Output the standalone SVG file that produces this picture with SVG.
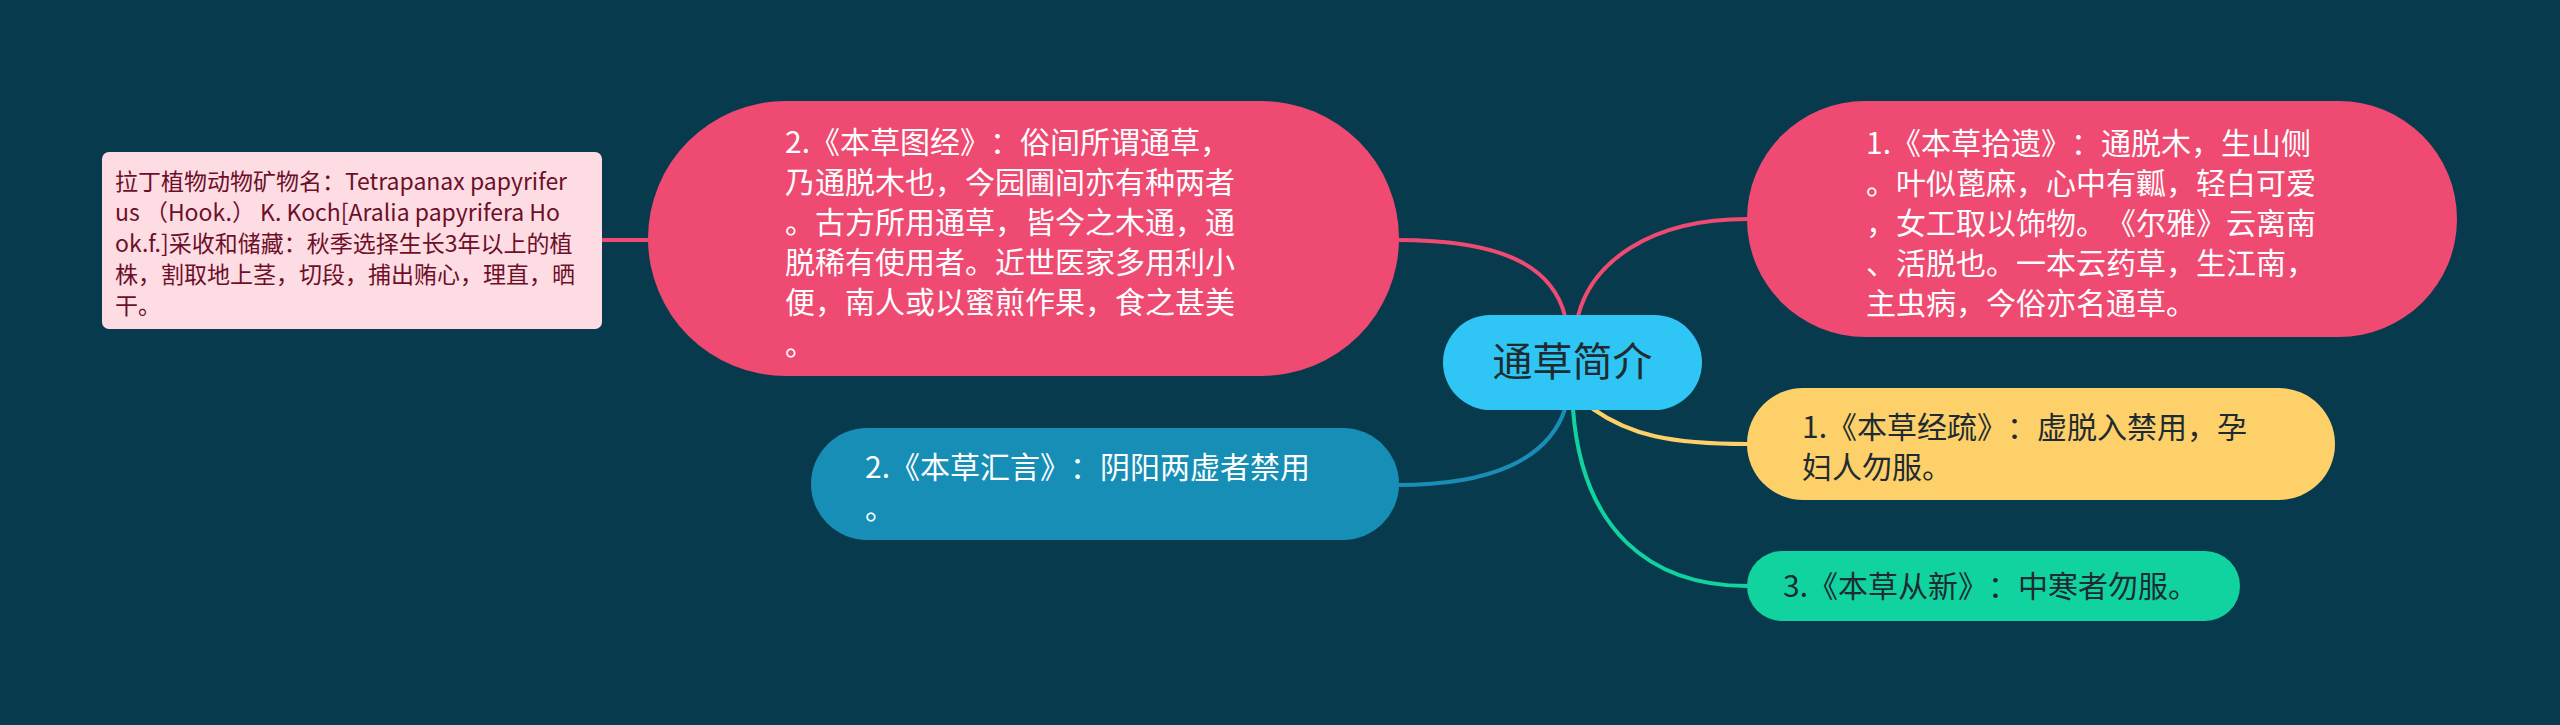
<svg xmlns="http://www.w3.org/2000/svg" width="2560" height="725" viewBox="0 0 2560 725">
<style>
text{font-family:"Microsoft YaHei","Noto Sans CJK SC","Noto Sans",sans-serif;text-spacing-trim:space-all}
.c{fill:none;stroke-width:4;stroke-linecap:round}
.w{fill:#ffffff;font-size:30px}
.d{fill:#1e2b30;font-size:30px}
</style>
<rect x="0" y="0" width="2560" height="725" fill="#083a4e"/>
<g id="connectors">
<path class="c" stroke="#ef4a72" d="M1565,316 C1552,265 1500,240 1398,240"/>
<path class="c" stroke="#ef4a72" d="M1578,316 C1592,262 1650,219 1747,219"/>
<path class="c" stroke="#ef4a72" d="M602,240 L648,240"/>
<path class="c" stroke="#1a8db5" d="M1565,409 C1548,460 1490,485 1398,485"/>
<path class="c" stroke="#fdd069" d="M1593,409 C1630,435 1670,444 1747,444"/>
<path class="c" stroke="#10d39f" d="M1573,409 C1582,530 1650,586 1747,586"/>
</g>
<g id="center">
<rect x="1443" y="315" width="259" height="95" rx="47.5" fill="#2fc5f4"/>
<text x="1572.5" y="376" text-anchor="middle" style="font-size:40px" fill="#1e2b30">通草简介</text>
</g>
<g id="n-shiyi">
<rect x="1747" y="101" width="710" height="236" rx="118" fill="#ef4a72"/>
<text class="w"><tspan x="1866" y="154">1.《本草拾遗》：通脱木，生山侧</tspan><tspan x="1866" y="194">。叶似蓖麻，心中有瓤，轻白可爱</tspan><tspan x="1866" y="234">，女工取以饰物。《尔雅》云离南</tspan><tspan x="1866" y="274">、活脱也。一本云药草，生江南，</tspan><tspan x="1866" y="314">主虫病，今俗亦名通草。</tspan></text>
</g>
<g id="n-tujing">
<rect x="648" y="101" width="751" height="275" rx="137.5" fill="#ef4a72"/>
<text class="w"><tspan x="785" y="153">2.《本草图经》：俗间所谓通草，</tspan><tspan x="785" y="193">乃通脱木也，今园圃间亦有种两者</tspan><tspan x="785" y="233">。古方所用通草，皆今之木通，通</tspan><tspan x="785" y="273">脱稀有使用者。近世医家多用利小</tspan><tspan x="785" y="313">便，南人或以蜜煎作果，食之甚美</tspan><tspan x="785" y="355">。</tspan></text>
</g>
<g id="n-latin">
<rect x="102" y="152" width="500" height="177" rx="7" fill="#fddde3"/>
<text style="font-size:23px" fill="#6e0f2a"><tspan x="115" y="190">拉丁植物动物矿物名：Tetrapanax papyrifer</tspan><tspan x="115" y="221">us （Hook.） K. Koch[Aralia papyrifera Ho</tspan><tspan x="115" y="252">ok.f.]采收和储藏：秋季选择生长3年以上的植</tspan><tspan x="115" y="283">株，割取地上茎，切段，捕出贿心，理直，晒</tspan><tspan x="115" y="314">干。</tspan></text>
</g>
<g id="n-huiyan">
<rect x="811" y="428" width="588" height="112" rx="56" fill="#168eb6"/>
<text class="w"><tspan x="865" y="478">2.《本草汇言》：阴阳两虚者禁用</tspan><tspan x="865" y="519">。</tspan></text>
</g>
<g id="n-jingshu">
<rect x="1747" y="388" width="588" height="112" rx="56" fill="#fdd069"/>
<text class="d"><tspan x="1802" y="438">1.《本草经疏》：虚脱入禁用，孕</tspan><tspan x="1802" y="478">妇人勿服。</tspan></text>
</g>
<g id="n-congxin">
<rect x="1747" y="551" width="493" height="70" rx="35" fill="#10d39f"/>
<text class="d"><tspan x="1783" y="597">3.《本草从新》：中寒者勿服。</tspan></text>
</g>
</svg>
